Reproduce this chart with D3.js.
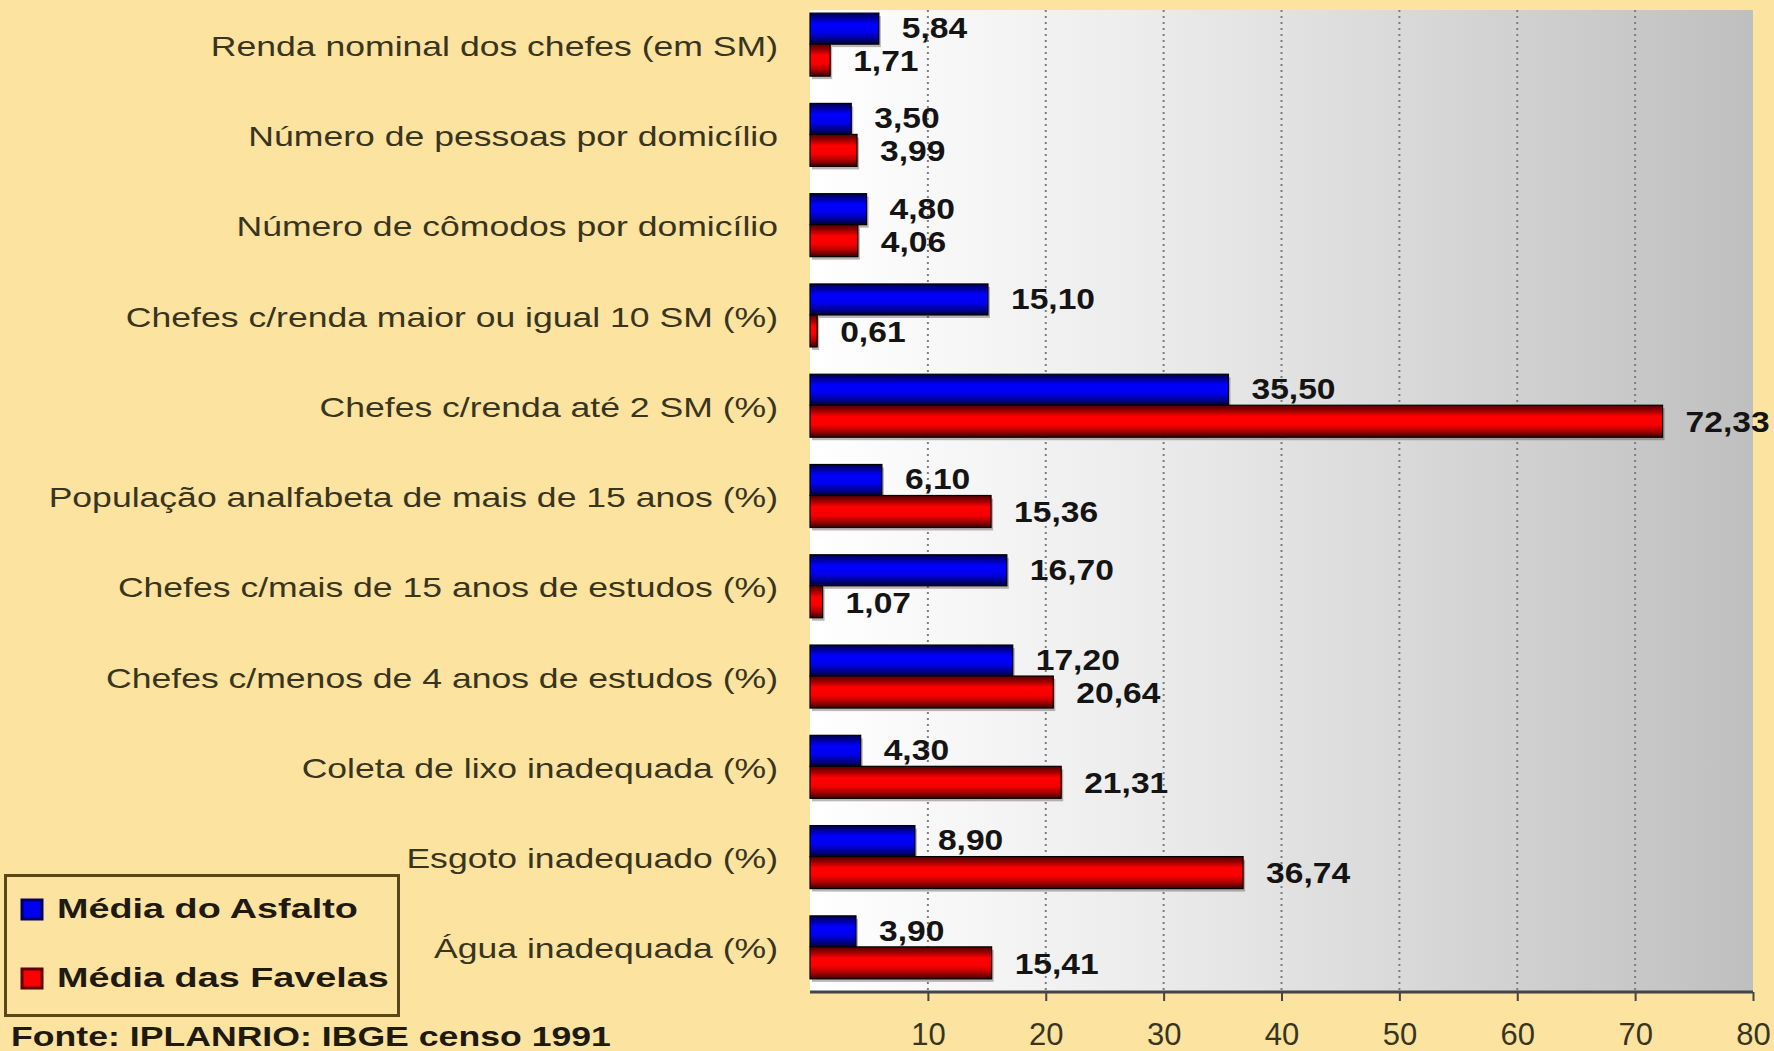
<!DOCTYPE html>
<html><head><meta charset="utf-8">
<script src="https://cdn.jsdelivr.net/npm/d3@7"></script>
<style>
html,body{margin:0;padding:0;background:#fde3a0;overflow:hidden}
svg{display:block}
text{font-family:"Liberation Sans",Arial,sans-serif}
</style></head><body>
<svg id="chart" width="1774" height="1051"></svg>
<script>
const categories = [
  "Renda nominal dos chefes (em SM)",
  "Número de pessoas por domicílio",
  "Número de cômodos por domicílio",
  "Chefes c/renda maior ou igual 10 SM (%)",
  "Chefes c/renda até 2 SM (%)",
  "População analfabeta de mais de 15 anos (%)",
  "Chefes c/mais de 15 anos de estudos (%)",
  "Chefes c/menos de 4 anos de estudos (%)",
  "Coleta de lixo inadequada (%)",
  "Esgoto inadequado (%)",
  "Água inadequada (%)"
];
const asfalto = [5.84, 3.50, 4.80, 15.10, 35.50, 6.10, 16.70, 17.20, 4.30, 8.90, 3.90];
const favelas = [1.71, 3.99, 4.06, 0.61, 72.33, 15.36, 1.07, 20.64, 21.31, 36.74, 15.41];
const seriesNames = ["Média do Asfalto", "Média das Favelas"];
const tickValues = [10, 20, 30, 40, 50, 60, 70, 80];
const sourceText = "Fonte: IPLANRIO: IBGE censo 1991";

const svg = d3.select("#chart");
const plot = {left: 810, right: 1753, top: 10, bottom: 992};

const x = d3.scaleLinear().domain([0, 80]).range([plot.left, plot.right]);
const y = d3.scaleBand().domain(categories).range([-1, plot.bottom]).padding(0);

const defs = svg.append("defs");
const bg = defs.append("linearGradient").attr("id", "plotbg").attr("x1", 0).attr("x2", 1).attr("y1", 0).attr("y2", 0);
[[0, "#ffffff"], [0.15, "#f7f7f7"], [0.35, "#ececec"], [0.7, "#d4d4d4"], [1, "#bfbfbf"]]
  .forEach(([o, c]) => bg.append("stop").attr("offset", o).attr("stop-color", c));
const gb = defs.append("linearGradient").attr("id", "gblue").attr("x1", 0).attr("x2", 0).attr("y1", 0).attr("y2", 1);
[[0, "#00004a"], [0.18, "#0000a8"], [0.35, "#0000ff"], [0.6, "#0000f0"], [0.8, "#0000a0"], [1, "#000030"]]
  .forEach(([o, c]) => gb.append("stop").attr("offset", o).attr("stop-color", c));
const gr = defs.append("linearGradient").attr("id", "gred").attr("x1", 0).attr("x2", 0).attr("y1", 0).attr("y2", 1);
[[0, "#500000"], [0.18, "#a00000"], [0.35, "#ff0000"], [0.6, "#f80000"], [0.8, "#b00000"], [1, "#380000"]]
  .forEach(([o, c]) => gr.append("stop").attr("offset", o).attr("stop-color", c));

// plot background
svg.append("rect").attr("x", plot.left).attr("y", plot.top)
  .attr("width", plot.right - plot.left).attr("height", plot.bottom - plot.top)
  .attr("fill", "url(#plotbg)");

// gridlines
svg.append("g").selectAll("line").data(tickValues.filter(d => d < 80)).join("line")
  .attr("x1", d => x(d)).attr("x2", d => x(d))
  .attr("y1", plot.top).attr("y2", plot.bottom)
  .attr("stroke", "#7e7e7e").attr("stroke-width", 2).attr("stroke-dasharray", "2,4");

const barH = 31;
const rows = categories.map((c, i) => ({c, a: asfalto[i], f: favelas[i]}));
const rowG = svg.append("g").selectAll("g").data(rows).join("g")
  .attr("transform", d => `translate(0,${y(d.c) + y.bandwidth() / 2})`);

function bars(key, yOff, h, fill) {
  rowG.append("rect")
    .attr("x", x(0) + 2).attr("y", yOff + 3)
    .attr("width", d => x(d[key]) - x(0)).attr("height", h)
    .attr("fill", "rgba(70,50,50,0.35)");
  rowG.append("rect")
    .attr("x", x(0)).attr("y", yOff)
    .attr("width", d => x(d[key]) - x(0)).attr("height", h)
    .attr("fill", fill).attr("stroke", "#000").attr("stroke-width", 1.2);
}
bars("a", -barH, barH, "url(#gblue)");
bars("f", 0, barH + 1, "url(#gred)");

const fmt = v => d3.format(".2f")(v).replace(".", ",");
function valueLabels(key, yc) {
  rowG.append("g")
    .attr("transform", d => `translate(${x(d[key]) + 23},${yc}) scale(1.12,1)`)
    .append("text")
    .attr("dominant-baseline", "central")
    .attr("font-size", 30).attr("font-weight", "bold").attr("fill", "#141414")
    .text(d => fmt(d[key]));
}
valueLabels("a", -barH / 2 - 1);
valueLabels("f", barH / 2 + 1);

// category labels
rowG.append("g").attr("transform", "translate(778,2) scale(1.27,1)")
  .append("text").attr("text-anchor", "end").attr("dominant-baseline", "central")
  .attr("font-size", 28).attr("fill", "#38351f")
  .text(d => d.c);

// axis
const axisG = svg.append("g").attr("transform", `translate(0,${plot.bottom})`)
  .call(d3.axisBottom(x).tickValues(tickValues).tickSize(9).tickPadding(22).tickSizeOuter(0));
axisG.select(".domain").attr("stroke", "#444").attr("stroke-width", 3)
  .attr("d", `M${plot.left},0H${plot.right}`);
axisG.selectAll(".tick line").attr("stroke", "#444").attr("stroke-width", 2);
axisG.selectAll(".tick text").attr("font-size", 31).attr("fill", "#38351f")
  .attr("font-family", "Liberation Sans, Arial, sans-serif");

// legend
const lg = svg.append("g");
lg.append("rect").attr("x", 5.5).attr("y", 875.5).attr("width", 393).attr("height", 140)
  .attr("fill", "#fde3a0").attr("stroke", "#5a4718").attr("stroke-width", 3);
const legendFills = ["#0000f0", "#ff0000"];
const legendStroke = ["#000060", "#600000"];
seriesNames.forEach((name, i) => {
  const cy = 909 + i * 69;
  lg.append("rect").attr("x", 22).attr("y", cy - 9).attr("width", 20).attr("height", 19)
    .attr("fill", legendFills[i]).attr("stroke", legendStroke[i]).attr("stroke-width", 3);
  lg.append("g").attr("transform", `translate(57,${cy}) scale(1.4,1)`)
    .append("text").attr("dominant-baseline", "central")
    .attr("font-size", 27).attr("font-weight", "bold").attr("fill", "#1e1a10")
    .text(name);
});

// source
svg.append("g").attr("transform", "translate(11,1046) scale(1.32,1)")
  .append("text").attr("font-size", 27).attr("font-weight", "bold").attr("fill", "#1e1a10")
  .text(sourceText);
</script>
</body></html>
